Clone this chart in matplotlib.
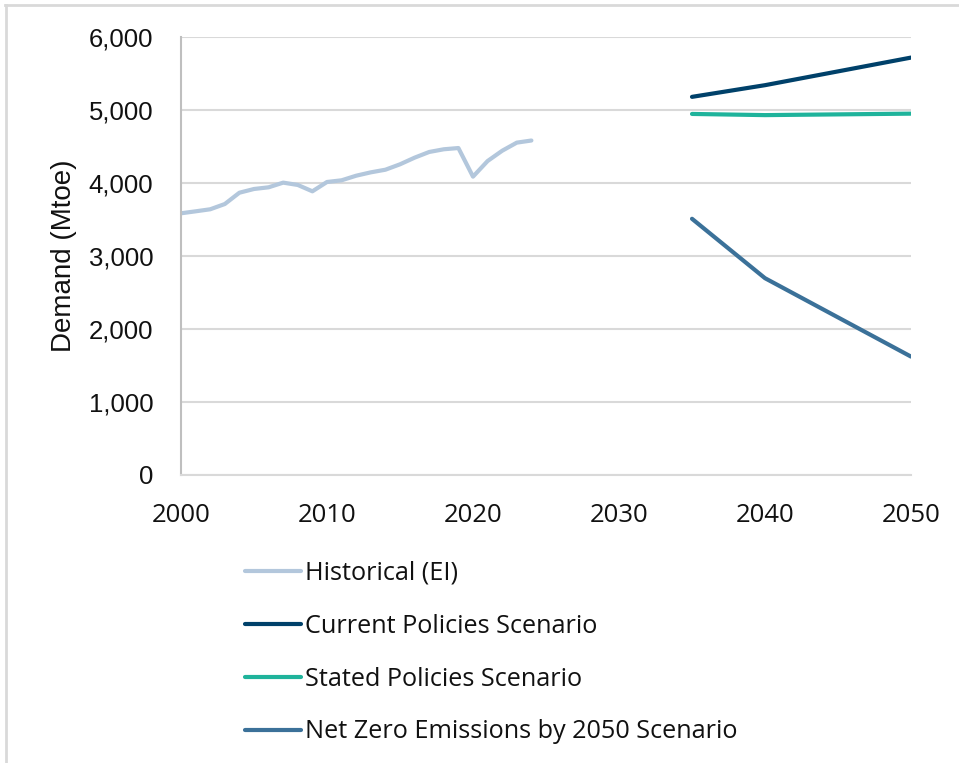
import matplotlib
matplotlib.use("Agg")
import matplotlib.pyplot as plt
from matplotlib.lines import Line2D
from matplotlib.ticker import FuncFormatter

# Historical primary energy demand (Mtoe)
hist_years = list(range(2000, 2025))
hist_values = [3585, 3612, 3640, 3712, 3867, 3918, 3941, 4005, 3973, 3886,
               4014, 4037, 4100, 4146, 4182, 4256, 4347, 4425, 4462, 4479,
               4087, 4301, 4442, 4553, 4582]

# Scenario projections (Mtoe)
scen_years = [2035, 2040, 2050]
current_policies = [5180, 5340, 5718]
stated_policies = [4946, 4930, 4950]
net_zero = [3510, 2696, 1622]

labels = ["Historical (EI)", "Current Policies Scenario",
          "Stated Policies Scenario", "Net Zero Emissions by 2050 Scenario"]
colors = ["#b3c7dc", "#00416a", "#1fb39b", "#3b7199"]

W, H = 959, 763
fig = plt.figure(figsize=(W / 100, H / 100), dpi=100)

# light frame around the chart area
fig.add_artist(Line2D([5 / W, 1], [1 - 5 / H, 1 - 5 / H], transform=fig.transFigure,
                      color="#d9d9d9", lw=2))
fig.add_artist(Line2D([6 / W, 6 / W], [0, 1 - 5 / H], transform=fig.transFigure,
                      color="#d9d9d9", lw=2))

ax = fig.add_axes([181 / W, 1 - 475 / H, (911 - 181) / W, (475 - 37) / H])

lw = 3.0
ax.plot(hist_years, hist_values, color=colors[0], lw=lw, label=labels[0],
        solid_capstyle="round")
ax.plot(scen_years, current_policies, color=colors[1], lw=lw, label=labels[1],
        solid_capstyle="round")
ax.plot(scen_years, stated_policies, color=colors[2], lw=lw, label=labels[2],
        solid_capstyle="round")
ax.plot(scen_years, net_zero, color=colors[3], lw=lw, label=labels[3],
        solid_capstyle="round")

ax.set_xlim(2000, 2050)
ax.set_ylim(0, 6000)
ax.set_xticks(range(2000, 2051, 10))
ax.set_yticks(range(0, 6001, 1000))
ax.yaxis.set_major_formatter(FuncFormatter(lambda v, p: f"{int(v):,}"))

ax.grid(axis="y", color="#d9d9d9", lw=1.5)
ax.set_axisbelow(True)
for side in ("top", "right"):
    ax.spines[side].set_visible(False)
ax.spines["left"].set_color("#bfbfbf")
ax.spines["bottom"].set_color("#d9d9d9")
ax.spines["left"].set_linewidth(1.5)
ax.spines["bottom"].set_linewidth(1.5)
ax.tick_params(length=0)
ax.tick_params(axis="y", pad=20)
ax.tick_params(axis="x", pad=20)

for t in ax.get_yticklabels():
    t.set_fontfamily("Liberation Sans")
    t.set_fontsize(18.5)
    t.set_color("#111111")
for t in ax.get_xticklabels():
    t.set_fontfamily("Open Sans")
    t.set_fontsize(18.5)
    t.set_color("#111111")

ax.set_ylabel("Demand (Mtoe)", fontfamily="Liberation Sans", fontsize=20,
              color="#111111", labelpad=8)

handles, lbls = ax.get_legend_handles_labels()
fig.legend(handles, lbls, loc="upper left",
           bbox_to_anchor=(245 / W, 1 - 561 / H),
           frameon=False, borderpad=0, borderaxespad=0,
           handlelength=2.2, handletextpad=0.18, labelspacing=1.1,
           prop={"family": "Open Sans", "size": 18.2}, labelcolor="#111111")

fig.savefig("out.png", dpi=100)
